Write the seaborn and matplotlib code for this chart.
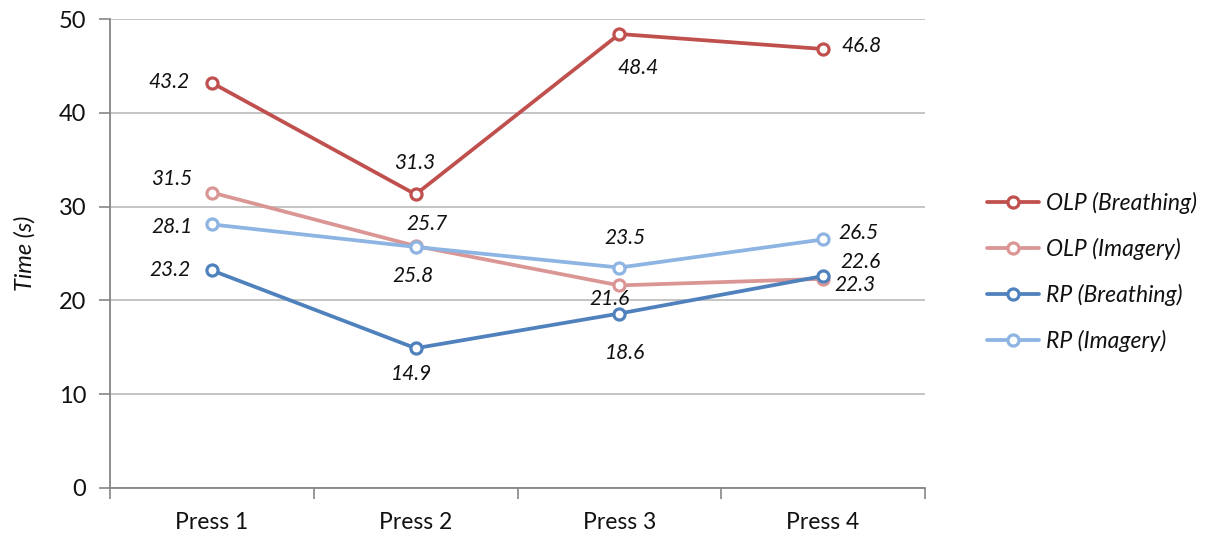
import matplotlib
matplotlib.use("Agg")
import matplotlib.pyplot as plt
from matplotlib.lines import Line2D
import seaborn as sns
import pandas as pd

# Mean completion time per press, for each condition
presses = ["Press 1", "Press 2", "Press 3", "Press 4"]
olp_breathing = [43.2, 31.3, 48.4, 46.8]
olp_imagery = [31.5, 25.8, 21.6, 22.3]
rp_breathing = [23.2, 14.9, 18.6, 22.6]
rp_imagery = [28.1, 25.7, 23.5, 26.5]

series_names = ["OLP (Breathing)", "OLP (Imagery)", "RP (Breathing)", "RP (Imagery)"]
series_values = [olp_breathing, olp_imagery, rp_breathing, rp_imagery]
colors = ["#C0504D", "#DA9694", "#4F81BD", "#8DB4E2"]

# Where each value label sits relative to its point (pixels, x right / y up)
label_offsets = [
    [(-43, 1), (-1, 31), (19, -34), (38, 3)],
    [(-40, 14), (-3, -30), (-10, -14), (32, -6)],
    [(-42, 0), (-4, -26), (6, -39), (37, 14)],
    [(-40, -3), (11, 23), (6, 30), (35, 6)],
]

rows = []
for name, vals in zip(series_names, series_values):
    for p, v in zip(presses, vals):
        rows.append({"Press": p, "Time": v, "Series": name})
df = pd.DataFrame(rows)

sns.set_theme(style="white")
plt.rcParams["font.family"] = ["Lato", "DejaVu Sans"]

fig = plt.figure(figsize=(12.09, 5.35), dpi=100)
ax = fig.add_axes([110 / 1209, 47 / 535, 815 / 1209, 469 / 535])

sns.lineplot(
    data=df, x="Press", y="Time", hue="Series", hue_order=series_names,
    palette=colors, marker="o", markersize=8, markerfacecolor="white",
    markeredgewidth=2.3, linewidth=2.7, legend=False, ax=ax, sort=False,
)
# seaborn sets marker edge colour to the line colour per series
for line, c in zip(ax.lines, colors):
    line.set_markeredgecolor(c)
    line.set_zorder(3)

for vals, offs in zip(series_values, label_offsets):
    for i, (v, (dx, dy)) in enumerate(zip(vals, offs)):
        ax.annotate(f"{v:.1f}", xy=(i, v), xytext=(dx, dy),
                    textcoords="offset pixels", ha="center", va="center",
                    fontsize=15, fontstyle="italic", color="#111111", zorder=5)

ax.set_xlim(-0.5, len(presses) - 0.5)
ax.set_ylim(0, 50)
ax.set_yticks(range(0, 51, 10))
ax.yaxis.grid(True, color="#BFBFBF", linewidth=1.3)
ax.set_axisbelow(True)

# category ticks sit on the boundaries between presses
ax.set_xticks([i - 0.5 for i in range(len(presses) + 1)], minor=False)
ax.set_xticklabels([])
ax.set_xticks(range(len(presses)), minor=True)
ax.set_xticklabels(presses, minor=True)
ax.tick_params(axis="x", which="major", length=8, width=1.2, color="#868686", direction="out", bottom=True)
ax.tick_params(axis="x", which="minor", length=0, labelsize=16.5, pad=17, labelcolor="#111111")
ax.tick_params(axis="y", length=8, width=1.2, color="#868686", direction="out", left=True,
               labelsize=17, pad=9, labelcolor="#111111")

for side in ["top", "right"]:
    ax.spines[side].set_visible(False)
for side in ["left", "bottom"]:
    ax.spines[side].set_color("#868686")
    ax.spines[side].set_linewidth(1.3)

ax.set_xlabel("")
ax.set_ylabel("Time (s)", fontsize=17, fontstyle="italic", color="#111111")
ax.yaxis.set_label_coords(-0.091, 0.5)

handles = [
    Line2D([], [], color=c, linewidth=2.7, marker="o", markersize=8,
           markerfacecolor="white", markeredgecolor=c, markeredgewidth=2.3)
    for c in colors
]
leg = fig.legend(handles, series_names, loc="center left", bbox_to_anchor=(966 / 1209, 1 - 272 / 535),
                 frameon=False, handlelength=2.3, handletextpad=0.3, labelspacing=1.05,
                 prop={"size": 16.5, "style": "italic"})
for t in leg.get_texts():
    t.set_color("#111111")

fig.savefig("out.png", dpi=100)
